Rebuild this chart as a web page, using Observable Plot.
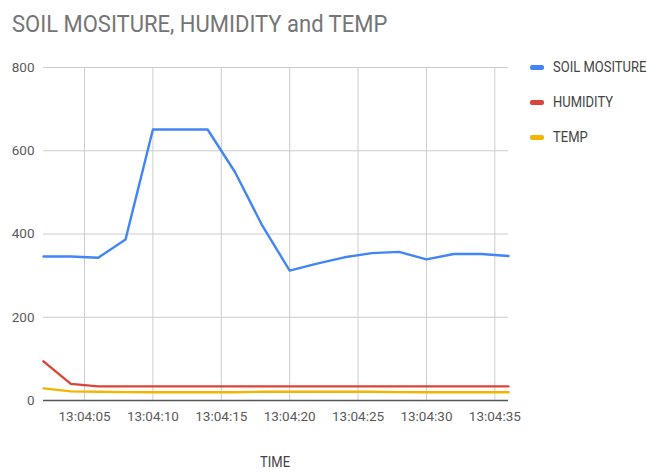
<!DOCTYPE html>
<html>
<head>
<meta charset="utf-8">
<script src="https://cdn.jsdelivr.net/npm/d3@7"></script>
<script src="https://cdn.jsdelivr.net/npm/@observablehq/plot@0.6"></script>
<style>
  body { margin: 0; background: #fff; font-family: Roboto, sans-serif; }
  #wrap { position: relative; width: 647px; height: 473px; overflow: hidden; }
  #title { position: absolute; left: 12px; top: 10px; font-size: 22px; color: #757575; white-space: nowrap; transform: scaleY(1.12); transform-origin: 0 0; }
  #xlabel { position: absolute; left: 255px; top: 455px; width: 40px; text-align: center; font-size: 13px; color: #444; transform: scaleY(1.1); }
  #legend { position: absolute; left: 530px; top: 60px; font-size: 13px; color: #444; }
  .item { position: relative; height: 35px; white-space: nowrap; }
  .sw { position: absolute; left: 0; top: 5px; width: 14px; height: 5px; border-radius: 2px; }
  .lt { position: absolute; left: 23px; top: 0; transform: scaleY(1.1); transform-origin: 0 50%; }
  #chart { position: absolute; left: 0; top: 0; }
</style>
</head>
<body>
<div id="wrap">
  <div id="chart"></div>
  <div id="title">SOIL MOSITURE, HUMIDITY and TEMP</div>
  <div id="xlabel">TIME</div>
  <div id="legend"></div>
</div>
<script>
const times = ["13:04:02","13:04:04","13:04:06","13:04:08","13:04:10","13:04:12","13:04:14","13:04:16","13:04:18","13:04:20","13:04:22","13:04:24","13:04:26","13:04:28","13:04:30","13:04:32","13:04:34","13:04:36"];
const soilMoisture = [346, 346, 343, 387, 651, 651, 651, 549, 420, 312, 329, 344, 354, 357, 339, 352, 352, 347];
const humidity     = [94, 40, 34, 34, 34, 34, 34, 34, 34, 34, 34, 34, 34, 34, 34, 34, 34, 34];
const temp         = [29, 22, 21, 20, 20, 20, 20, 20, 21, 21, 21, 21, 21, 20, 20, 20, 20, 20];
const seriesNames  = ["SOIL MOSITURE", "HUMIDITY", "TEMP"];
const seriesColors = ["#4285F4", "#DB4437", "#F4B400"];
const xTickLabels  = ["13:04:05","13:04:10","13:04:15","13:04:20","13:04:25","13:04:30","13:04:35"];
const yTicks       = [0, 200, 400, 600, 800];

const toDate = s => new Date("2020-01-01T" + s + "Z");
const seriesValues = [soilMoisture, humidity, temp];
const rows = [];
seriesNames.forEach((name, i) => {
  times.forEach((t, j) => rows.push({time: toDate(t), value: seriesValues[i][j], series: name}));
});
const xTicks = xTickLabels.map(toDate);

const chart = Plot.plot({
  width: 647,
  height: 473,
  marginLeft: 43,
  marginRight: 139,
  marginTop: 67,
  marginBottom: 73,
  style: {fontFamily: "Roboto, sans-serif", fontSize: "13.5px", color: "#444", background: "transparent"},
  x: {type: "utc", domain: [toDate(times[0]), toDate(times[times.length - 1])], label: null},
  y: {domain: [0, 800], label: null},
  color: {domain: seriesNames, range: seriesColors},
  marks: [
    Plot.gridX(xTicks, {stroke: "#cccccc", strokeOpacity: 1, strokeWidth: 1}),
    Plot.gridY(yTicks.filter(d => d > 0), {stroke: "#cccccc", strokeOpacity: 1, strokeWidth: 1}),
    Plot.axisX(xTicks, {tickSize: 0, tickPadding: 11, tickFormat: d3.utcFormat("%H:%M:%S"), fill: "#5a5a5a", label: null}),
    Plot.axisY(yTicks, {tickSize: 0, tickPadding: 9, fill: "#5a5a5a", label: null}),
    Plot.line(rows, {x: "time", y: "value", stroke: "series", z: "series", strokeWidth: 2.4, curve: "linear"}),
    Plot.ruleY([0], {stroke: "#555", strokeWidth: 1.5})
  ]
});
document.getElementById("chart").appendChild(chart);

const legend = document.getElementById("legend");
seriesNames.forEach((name, i) => {
  const item = document.createElement("div");
  item.className = "item";
  item.innerHTML = `<span class="sw" style="background:${seriesColors[i]}"></span><span class="lt">${name}</span>`;
  legend.appendChild(item);
});
</script>
</body>
</html>
